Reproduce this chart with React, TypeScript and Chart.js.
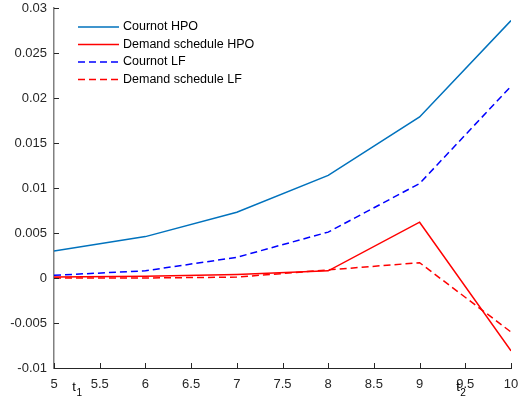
import React, { useEffect, useRef } from "react";
import { Chart, registerables } from "chart.js";

Chart.register(...registerables);

const xValues = [5, 6, 7, 8, 9, 10];
const cournotHPO = [0.003, 0.0046, 0.0073, 0.0114, 0.0179, 0.0286];
const demandHPO = [0.0001, 0.0002, 0.0004, 0.0008, 0.0062, -0.0081];
const cournotLF = [0.0003, 0.0008, 0.0023, 0.0051, 0.0105, 0.0213];
const demandLF = [0.0, 0.0, 0.0001, 0.0009, 0.0017, -0.006];

const seriesNames = ["Cournot HPO", "Demand schedule HPO", "Cournot LF", "Demand schedule LF"];
const xTickStep = 0.5;
const yTickStep = 0.005;
const timeMarkers = [
  { label: "t", sub: "1", x: 5.2 },
  { label: "t", sub: "2", x: 9.4 },
];
const markerY = -0.0126;

const FONT = "'Liberation Sans', Arial, Helvetica, sans-serif";
const AXIS_COLOR = "#262626";

const toPoints = (ys: number[]) => xValues.map((x, i) => ({ x, y: ys[i] }));

const innerTicks = {
  id: "innerTicks",
  afterDraw(chart: any) {
    const ctx = chart.ctx;
    const { left, bottom } = chart.chartArea;
    ctx.save();
    ctx.strokeStyle = AXIS_COLOR;
    ctx.lineWidth = 1;
    const xs = chart.scales.x;
    xs.ticks.forEach((t: any) => {
      const px = Math.round(xs.getPixelForValue(t.value)) + 0.5;
      ctx.beginPath();
      ctx.moveTo(px, bottom);
      ctx.lineTo(px, bottom - 5);
      ctx.stroke();
    });
    const ys = chart.scales.y;
    ys.ticks.forEach((t: any) => {
      const py = Math.round(ys.getPixelForValue(t.value)) + 0.5;
      ctx.beginPath();
      ctx.moveTo(left, py);
      ctx.lineTo(left + 5, py);
      ctx.stroke();
    });
    ctx.restore();
  },
};

const insideLegend = {
  id: "insideLegend",
  afterDraw(chart: any) {
    const ctx = chart.ctx;
    const { left, top } = chart.chartArea;
    ctx.save();
    ctx.font = `12.5px ${FONT}`;
    ctx.textBaseline = "middle";
    chart.data.datasets.forEach((ds: any, i: number) => {
      const y = top + 19 + i * 17.5;
      ctx.strokeStyle = ds.borderColor;
      ctx.lineWidth = ds.borderWidth;
      ctx.setLineDash(ds.borderDash || []);
      ctx.beginPath();
      ctx.moveTo(left + 24, y);
      ctx.lineTo(left + 65, y);
      ctx.stroke();
      ctx.setLineDash([]);
      ctx.fillStyle = "#000";
      ctx.fillText(ds.label, left + 69, y);
    });
    ctx.restore();
  },
};

const timeLabels = {
  id: "timeLabels",
  afterDraw(chart: any) {
    const ctx = chart.ctx;
    const xs = chart.scales.x;
    const ys = chart.scales.y;
    ctx.save();
    ctx.fillStyle = "#000";
    ctx.textBaseline = "alphabetic";
    timeMarkers.forEach((m) => {
      const px = xs.getPixelForValue(m.x);
      const py = ys.getPixelForValue(markerY);
      ctx.font = `13px ${FONT}`;
      ctx.fillText(m.label, px, py);
      const w = ctx.measureText(m.label).width;
      ctx.font = `10px ${FONT}`;
      ctx.fillText(m.sub, px + w + 0.5, py + 5);
    });
    ctx.restore();
  },
};

export default function App() {
  const canvasRef = useRef<HTMLCanvasElement | null>(null);

  useEffect(() => {
    document.body.style.margin = "0";
    const canvas = canvasRef.current;
    if (!canvas) return;
    const fmt = (v: any) => String(Number(Number(v).toFixed(4)));
    const chart = new Chart(canvas, {
      type: "line",
      data: {
        datasets: [
          { label: seriesNames[0], data: toPoints(cournotHPO), borderColor: "#0072BD", borderWidth: 1.5, pointRadius: 0, fill: false },
          { label: seriesNames[1], data: toPoints(demandHPO), borderColor: "#FF0000", borderWidth: 1.5, pointRadius: 0, fill: false },
          { label: seriesNames[2], data: toPoints(cournotLF), borderColor: "#0000FF", borderWidth: 1.5, borderDash: [7, 4], pointRadius: 0, fill: false },
          { label: seriesNames[3], data: toPoints(demandLF), borderColor: "#FF0000", borderWidth: 1.5, borderDash: [7, 4], pointRadius: 0, fill: false },
        ],
      },
      options: {
        animation: false,
        responsive: false,
        layout: { padding: { left: 0, right: 8, top: 8, bottom: 0 } },
        plugins: { legend: { display: false }, tooltip: { enabled: false } },
        scales: {
          x: {
            type: "linear",
            min: 5,
            max: 10,
            ticks: { stepSize: xTickStep, color: AXIS_COLOR, font: { family: FONT, size: 13 }, padding: 9, callback: fmt, maxRotation: 0 },
            grid: { display: false, drawTicks: false },
            border: { display: true, color: AXIS_COLOR, width: 1 },
            afterFit: (s: any) => { s.height = 36; s.paddingLeft = 0; s.paddingRight = 0; },
          },
          y: {
            type: "linear",
            min: -0.01,
            max: 0.03,
            ticks: { stepSize: yTickStep, color: AXIS_COLOR, font: { family: FONT, size: 13 }, padding: 7, callback: fmt },
            grid: { display: false, drawTicks: false },
            border: { display: true, color: "#808080", width: 1.5 },
            afterFit: (s: any) => { s.width = 54; s.paddingTop = 0; s.paddingBottom = 0; },
          },
        },
      },
      plugins: [innerTicks, insideLegend, timeLabels],
    });
    return () => chart.destroy();
  }, []);

  return (
    <div style={{ width: 519, height: 404, background: "#fff" }}>
      <canvas ref={canvasRef} width={519} height={404} />
    </div>
  );
}
